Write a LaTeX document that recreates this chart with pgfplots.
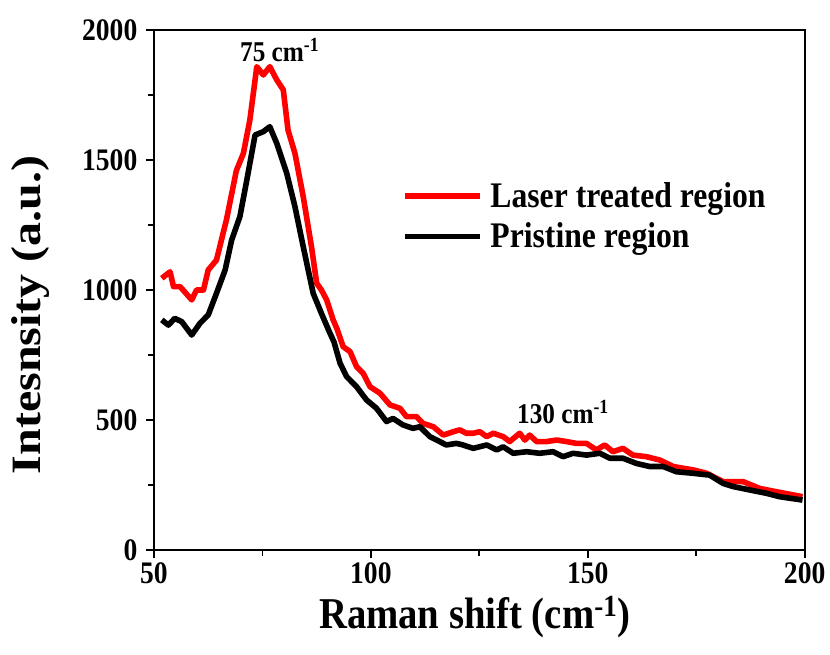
\documentclass[border=0pt]{standalone}
\usepackage{fontspec}
\setmainfont{Liberation Serif}[FakeStretch=0.88]
\newfontfamily\ylfont{Liberation Serif}
\usepackage{graphicx}
\usepackage{pgfplots}
\pgfplotsset{compat=1.18}
\pgfplotstableread{
x y
51.8 1045
53.7 1070
54.5 1013
56.0 1013
58.7 962
59.8 1000
61.4 1000
62.5 1077
64.4 1115
66.7 1270
69.0 1460
70.6 1525
72.1 1654
73.7 1859
75.2 1827
76.7 1859
78.3 1808
79.8 1770
80.9 1615
82.5 1525
84.4 1359
86.3 1167
87.5 1026
88.6 1000
89.8 962
91.3 885
92.2 850
93.6 782
95.2 763
96.7 705
98.2 680
99.8 628
102.1 603
104.4 558
106.7 545
108.2 513
110.5 513
112.0 487
114.4 474
116.7 442
119.0 455
120.5 462
122.0 449
123.6 449
125.1 455
126.7 436
128.2 449
130.5 436
132.0 417
134.3 449
135.5 423
136.6 442
138.2 417
140.5 417
142.8 423
145.1 417
147.4 410
149.7 410
152.0 385
153.9 404
155.8 378
158.1 391
160.4 365
163.5 359
166.6 346
169.7 321
174.3 308
177.4 295
181.2 263
185.8 263
189.6 237
193.5 224
197.3 212
199.5 205
}\laser
\pgfplotstableread{
x y
51.8 885
53.3 865
54.8 891
56.4 878
58.7 827
60.6 872
62.5 904
64.4 987
66.4 1077
67.9 1192
69.8 1282
71.4 1423
73.3 1596
75.2 1609
76.7 1628
78.3 1564
80.6 1449
82.5 1320
84.4 1167
86.7 987
88.6 910
90.4 840
91.5 800
92.9 718
94.4 667
96.7 628
99.0 577
101.3 545
103.6 494
105.1 506
107.4 481
109.7 468
111.3 474
113.6 436
117.4 404
119.7 410
121.0 405
123.6 391
126.7 404
129.0 385
130.5 397
132.8 372
135.9 378
138.9 372
142.0 378
144.3 359
146.6 372
149.7 365
152.8 372
155.1 353
158.1 353
161.2 333
164.3 321
167.4 321
170.4 301
174.3 295
178.1 288
181.2 256
183.5 244
187.3 231
191.2 218
194.2 205
199.5 192
}\pristine
\begin{document}
\begin{tikzpicture}
\begin{axis}[
  scale only axis,
  width=488pt, height=390pt,
  xmin=50, xmax=200, ymin=0, ymax=2000,
  xtick={50,100,150,200}, ytick={0,500,1000,1500,2000},
  minor x tick num=1, minor y tick num=1,
  xtick pos=bottom, ytick pos=left,
  tick align=outside,
  major tick length=6pt, minor tick length=4.5pt,
  every tick/.style={line width=1.3pt, black},
  axis line style={line width=1.5pt},
  /pgf/number format/assume math mode=true,
  /pgf/number format/set thousands separator={},
  ticklabel style={font=\bfseries\fontsize{23.5}{27}\selectfont},
  yticklabel style={xshift=-3pt},
  xlabel={Raman shift (cm\textsuperscript{-1})},
  ylabel={\scalebox{1}[0.87]{\ylfont\bfseries\fontsize{36}{42}\selectfont Intesnsity (a.u.)}},
  every axis x label/.style={font=\bfseries\fontsize{33}{40}\selectfont, at={(axis description cs:0.493,-0.129)}, anchor=center},
  every axis y label/.style={at={(axis description cs:-0.19,0.452)}, anchor=center, rotate=90},
  legend style={at={(0.381,0.712)}, anchor=north west, draw=none, fill=none,
    font=\bfseries\fontsize{27}{32}\selectfont, inner sep=0pt, row sep=6pt},
  legend cell align=left,
  legend image code/.code={\draw[#1, line width=4.2pt] (0pt,0pt) -- (56pt,0pt);},
]
\addplot[red, line width=4.2pt, line join=round] table[x=x,y=y] {\laser};
\addlegendentry{\hspace{4pt}Laser treated region}
\addplot[black, line width=4.2pt, line join=round] table[x=x,y=y] {\pristine};
\addlegendentry{\hspace{4pt}Pristine region}
\node[font=\bfseries\fontsize{21.5}{25}\selectfont] at (axis cs:79.0,1923) {75 cm\textsuperscript{-1}};
\node[font=\bfseries\fontsize{21.5}{25}\selectfont] at (axis cs:144.3,531) {130 cm\textsuperscript{-1}};
\end{axis}
\pgfresetboundingbox
\path (current axis.south west) ++(-115.5pt,-78.75pt) rectangle ++(622.5pt,491.25pt);
\end{tikzpicture}
\end{document}
